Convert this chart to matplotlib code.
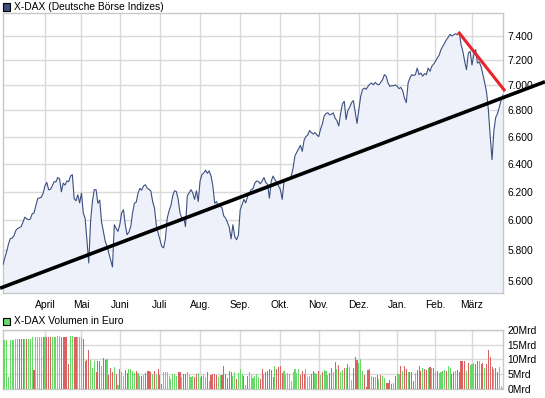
import numpy as np
import pandas as pd
import matplotlib
matplotlib.use("Agg")
import matplotlib.pyplot as plt
from matplotlib.patches import Rectangle
from matplotlib.lines import Line2D

# ---------------- data ----------------
holidays = ["2010-04-02", "2010-04-05", "2010-12-24", "2010-12-31"]
first_day = "2010-03-01"
last_day = "2011-03-24"

price = [
    5705, 5750, 5790, 5840, 5876, 5880, 5895, 5930, 5945, 5950,
    5958, 5990, 6022, 6010, 6004, 6010, 6045, 6050, 6100, 6150,
    6155, 6160, 6188, 6240, 6265, 6213, 6215, 6240, 6270, 6268,
    6300, 6290, 6198, 6260, 6245, 6275, 6270, 6310, 6320, 6150,
    6135, 6177, 6120, 6188, 6050, 6015, 5860, 5716, 5993, 6130,
    6213, 6213, 6118, 6140, 5990, 5925, 5860, 5825, 5780, 5738,
    5690, 5970, 5945, 5925, 5970, 6050, 6073, 5970, 5903, 5920,
    5958, 6050, 6118, 6125, 6188, 6222, 6210, 6240, 6248, 6225,
    6215, 6205, 6130, 6085, 5970, 5914, 5869, 5825, 5815, 5875,
    6015, 6065, 6100, 6170, 6205, 6200, 6145, 6050, 6015, 6020,
    5958, 6170, 6190, 6213, 6190, 6145, 6205, 6130, 6275, 6320,
    6333, 6352, 6330, 6347, 6310, 6240, 6118, 6130, 6095, 6100,
    6085, 6030, 6015, 5985, 5953, 5875, 5970, 5890, 5869, 5900,
    6073, 6107, 6145, 6120, 6165, 6188, 6213, 6220, 6260, 6275,
    6270, 6255, 6275, 6300, 6265, 6250, 6153, 6275, 6310, 6285,
    6265, 6240, 6213, 6145, 6275, 6285, 6295, 6290, 6310, 6370,
    6458, 6484, 6510, 6535, 6490, 6572, 6600, 6612, 6646, 6630,
    6620, 6630, 6612, 6600, 6655, 6695, 6757, 6775, 6782, 6765,
    6770, 6780, 6740, 6720, 6680, 6775, 6850, 6870, 6730, 6800,
    6825, 6860, 6876, 6790, 6700, 6805, 6909, 6962, 6975, 6965,
    6988, 7006, 7015, 7000, 7020, 7005, 7000, 7020, 7041, 7082,
    7068, 7015, 6988, 6993, 6993, 7000, 6988, 6970, 6980, 6955,
    6896, 6860, 7015, 7055, 7082, 7075, 7082, 7135, 7082, 7095,
    7070, 7090, 7082, 7135, 7109, 7150, 7168, 7190, 7218, 7240,
    7286, 7314, 7341, 7369, 7390, 7415, 7400, 7410, 7420, 7410,
    7435, 7330, 7272, 7190, 7122, 7258, 7272, 7160, 7245, 7286,
    7176, 7185, 7146, 7082, 7015, 6940, 6800, 6600, 6429, 6645,
    6745, 6775, 6825, 6883, 6920,
]

volume_mrd = [
    16.4, 16.4, 16.4, 4.2, 16.6, 16.6, 16.6, 16.9, 16.9, 16.9,
    16.9, 16.9, 16.9, 16.9, 16.9, 16.9, 17.4, 6.4, 17.4, 17.4,
    17.6, 17.6, 17.4, 17.6, 17.6, 17.6, 17.6, 17.6, 17.6, 17.6,
    18.0, 18.0, 17.6, 17.6, 17.6, 17.6, 8.5, 18.0, 18.0, 17.4,
    17.4, 17.6, 17.4, 17.6, 16.9, 9.3, 9.8, 13.2, 9.8, 7.2,
    9.3, 5.9, 9.3, 9.3, 7.9, 10.6, 9.8, 10.2, 4.7, 7.2,
    5.9, 7.5, 4.9, 1.4, 6.8, 5.9, 4.5, 6.4, 5.3, 6.8,
    6.8, 6.1, 5.5, 6.1, 5.3, 4.5, 4.5, 4.7, 5.3, 6.1,
    6.1, 5.6, 5.0, 6.1, 4.7, 6.8, 4.7, 1.7, 5.8, 5.8,
    5.8, 4.5, 3.4, 5.0, 5.2, 4.5, 5.8, 5.8, 4.2, 5.2,
    5.1, 5.8, 4.7, 4.2, 4.4, 4.2, 5.1, 5.4, 3.8, 4.5,
    4.7, 4.2, 5.8, 2.8, 4.7, 5.1, 5.1, 4.7, 4.2, 4.7,
    4.8, 7.9, 4.9, 3.6, 6.1, 5.8, 4.5, 5.8, 3.4, 5.4,
    6.8, 4.9, 4.5, 1.4, 4.5, 5.8, 4.7, 3.6, 4.5, 5.1,
    4.2, 3.3, 6.8, 4.9, 5.8, 6.1, 6.8, 6.4, 4.2, 7.9,
    6.8, 7.5, 7.9, 5.4, 6.1, 4.9, 5.4, 4.9, 2.7, 5.8,
    6.8, 5.4, 6.8, 4.6, 6.1, 4.9, 6.8, 4.2, 4.5, 4.9,
    6.1, 5.4, 4.9, 6.1, 4.7, 5.7, 6.4, 6.1, 4.7, 5.4,
    7.1, 5.8, 9.2, 6.8, 8.1, 5.9, 6.4, 7.0, 7.2, 8.5,
    7.5, 3.1, 7.2, 10.8, 9.8, 8.9, 10.2, 6.1, 4.7, 0.8,
    6.4, 6.8, 4.4, 4.2, 4.0, 4.7, 3.4, 4.7, 4.4, 3.6,
    2.1, 2.1, 3.1, 1.7, 2.0, 4.4, 5.5, 5.0, 7.6, 6.1,
    7.9, 6.8, 5.9, 5.9, 5.9, 2.7, 5.4, 6.4, 7.9, 6.0,
    7.2, 6.7, 6.4, 7.2, 7.5, 7.2, 7.0, 5.9, 6.1, 5.4,
    5.9, 6.0, 6.4, 6.1, 7.9, 7.2, 5.0, 5.9, 6.1, 6.4,
    5.9, 9.5, 9.5, 9.5, 6.1, 8.7, 8.1, 8.4, 8.8, 8.6,
    9.5, 9.5, 8.5, 8.7, 7.0, 8.5, 13.2, 10.8, 7.5, 6.8,
    7.1, 5.9, 7.5, 1.0, 0.5,
]

# 1 = up day (green bar), 0 = down day (red bar)
volume_up = (
    "1111111110" "0010111011" "1101000111" "1100000110" "0111000011"
    "1000100100" "0101011001" "1110110100" "0010100011" "1111110010"
    "0111100110" "1101000011" "0000001101" "1101011111" "1001000001"
    "0000111111" "1110001110" "0110101110" "0101011010" "1100011100"
    "0010101011" "0000101101" "0010001000" "1001010101" "1110110010"
    "0000101110" "0100100001" "00111"
)

price_ticks = [5600, 5800, 6000, 6200, 6400, 6600, 6800, 7000, 7200, 7400]
volume_ticks = [0, 5, 10, 15, 20]
month_names = ["April", "Mai", "Juni", "Juli", "Aug.", "Sep.", "Okt.",
               "Nov.", "Dez.", "Jan.", "Feb.", "März"]

# support line (black) and resistance line (red): index, value
trend_idx = [-1.6, 297.0]
trend_val = [5554, 7025]
resist_idx = [249.6, 275.1]
resist_val = [7434, 6951]

# ---------------- build ----------------
dates = pd.bdate_range(first_day, last_day)
dates = dates[~dates.isin(pd.to_datetime(holidays))]
n = len(price)
dates = dates[:n]
idx = np.arange(n)
month_starts = [i for i in range(1, n) if dates[i].month != dates[i - 1].month]

W, H = 545, 398
fig = plt.figure(figsize=(W / 100, H / 100), dpi=100)
fig.patch.set_facecolor("white")
FONT = "Liberation Sans"
FS = 7.4
GRID = "#dadada"
SPINE = "#c8c8c8"

def px_axes(l, t, r, b):
    return fig.add_axes([l / W, 1 - b / H, (r - l) / W, (b - t) / H])

ax = px_axes(3, 13.3, 503, 293.3)
ax.set_yscale("log")
ymin, ymax = 5522, 7594
ax.set_ylim(ymin, ymax)
ax.set_xlim(0, n - 1)
ax.fill_between(idx, price, ymin, color="#eef1f9", lw=0, zorder=1)
ax.plot(idx, price, color="#3b5080", lw=0.8, zorder=3)
ax.set_yticks(price_ticks)
ax.yaxis.set_minor_locator(plt.NullLocator())
ax.set_yticklabels([f"{v:,}".replace(",", ".") for v in price_ticks],
                   fontfamily=FONT, fontsize=FS)
ax.yaxis.tick_right()
ax.set_xticks(month_starts)
ax.set_xticklabels(month_names[:len(month_starts)], fontfamily=FONT, fontsize=FS)
ax.tick_params(axis="both", length=0, colors="black")
ax.tick_params(axis="y", pad=3.2)
ax.tick_params(axis="x", pad=4.5)
ax.grid(True, color=GRID, lw=1.0, zorder=0)
ax.set_axisbelow(True)
for s in ax.spines.values():
    s.set_color(SPINE)
    s.set_linewidth(1.0)

ax.add_line(Line2D(trend_idx, trend_val, color="black", lw=2.6,
                   clip_on=False, zorder=5, solid_capstyle="butt"))
ax.add_line(Line2D(resist_idx, resist_val, color="#e8232b", lw=2.2,
                   clip_on=False, zorder=6, solid_capstyle="butt"))

axv = px_axes(3, 329.7, 503, 389)
axv.set_xlim(0, n - 1)
axv.set_ylim(0, 20)
cols = ["#66d966" if c == "1" else "#d96262" for c in volume_up[:n]]
axv.bar(idx, volume_mrd, width=0.6, color=cols, lw=0, zorder=3,
        antialiased=False)
axv.set_yticks(volume_ticks)
axv.set_yticklabels([f"{v}Mrd" for v in volume_ticks], fontfamily=FONT, fontsize=FS)
axv.yaxis.tick_right()
axv.set_xticks(month_starts)
axv.set_xticklabels([])
axv.tick_params(axis="both", length=0)
axv.tick_params(axis="y", pad=3.2)
axv.grid(True, color=GRID, lw=1.0, zorder=0)
axv.set_axisbelow(True)
for s in axv.spines.values():
    s.set_color(SPINE)
    s.set_linewidth(1.0)

# legend-like captions
fig.add_artist(Rectangle((3 / W, 1 - 10.5 / H), 7 / W, 7 / H,
                         transform=fig.transFigure, facecolor="#3b5080",
                         edgecolor="black", lw=0.8))
fig.text(14 / W, 1 - 7 / H, "X-DAX (Deutsche Börse Indizes)", fontfamily=FONT,
         fontsize=FS, va="center", ha="left")
fig.add_artist(Rectangle((3 / W, 1 - 325 / H), 7 / W, 7 / H,
                         transform=fig.transFigure, facecolor="#66d966",
                         edgecolor="black", lw=0.8))
fig.text(14 / W, 1 - 321.5 / H, "X-DAX Volumen in Euro", fontfamily=FONT,
         fontsize=FS, va="center", ha="left")

fig.savefig("out.png", dpi=100, facecolor="white")
